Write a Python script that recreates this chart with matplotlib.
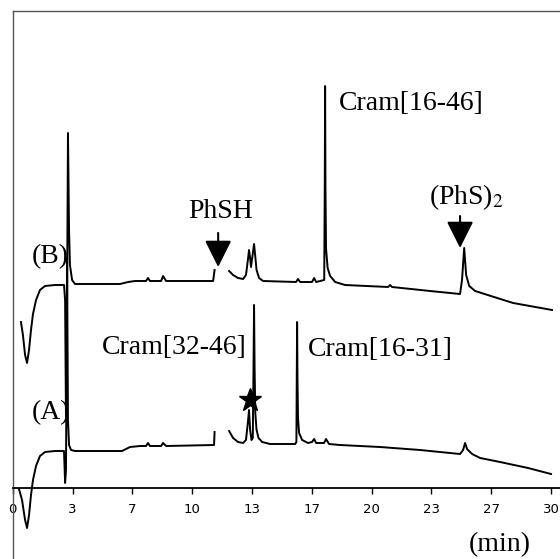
import numpy as np
import matplotlib
matplotlib.use("Agg")
import matplotlib.pyplot as plt

# ---------------- data (time in min, detector signal in arbitrary units) -------------
t_A = [0.35, 0.52, 0.69, 0.80, 0.91, 1.02, 1.13, 1.30, 1.52, 1.80, 2.36, 2.86,
       2.92, 2.97, 3.03, 3.08, 3.14, 3.25, 3.47, 6.09, 6.54, 7.10, 7.43, 7.54,
       7.65, 8.27, 8.38, 8.55, 11.22, 11.25, np.nan,
       12.06, 12.28, 12.56, 12.84, 13.00, 13.12, 13.17, 13.23, 13.31, 13.38,
       13.42, 13.45, 13.48, 13.52, 13.59, 13.70, 13.90, 14.34, 15.74, 15.81,
       15.83, 15.85, 15.87, 15.90, 15.96, 16.13, 16.46, 16.68, 16.80, 16.91,
       17.35, 17.46, 17.63, 18.24, 20.47, 22.70, 24.93, 25.10, 25.21, 25.32,
       25.60, 26.05, 27.16, 28.72, 30.0]
y_A = [-1, -12, -32, -40, -27, -7, 8, 22, 32, 36, 37, 37,
       5, 18, 230, 68, 43, 38, 37, 37, 41, 42, 42, 45,
       42, 42, 45, 42, 43, 56, np.nan,
       57, 50, 46, 45, 48, 68, 78, 58, 48, 50,
       120, 183, 120, 75, 58, 50, 46, 44, 44, 46,
       110, 166, 110, 70, 55, 48, 45, 46, 49, 45,
       45, 49, 44, 43, 41, 38, 34, 38, 45, 39,
       34, 30, 26, 20, 14]

t_B = [0.46, 0.57, 0.69, 0.80, 0.91, 1.02, 1.13, 1.30, 1.52, 1.80, 2.36, 2.86,
       2.92, 2.97, 3.03, 3.08, 3.14, 3.19, 3.31, 3.47, 5.98, 6.43, 6.82, 7.43,
       7.54, 7.65, 8.27, 8.38, 8.55, 11.17, 11.25, np.nan,
       12.06, 12.28, 12.56, 12.84, 13.00, 13.12, 13.17, 13.23, 13.28, 13.37,
       13.45, 13.51, 13.59, 13.73, 13.95, 15.79, 15.90, 16.02, 16.68, 16.80,
       16.91, 17.36, 17.39, 17.41, 17.43, 17.46, 17.55, 17.69, 17.97, 18.52,
       20.92, 21.03, 21.14, 23.26, 24.93, 25.04, 25.16, 25.27, 25.44, 25.77,
       27.00, 27.89, 30.06]
y_B = [166, 153, 133, 125, 138, 158, 174, 188, 198, 202, 203, 203,
       188, 68, 188, 355, 258, 223, 208, 204, 204, 206, 207, 207,
       210, 207, 207, 212, 207, 207, 218, np.nan,
       217, 213, 210, 209, 213, 230, 238, 230, 221, 233,
       244, 233, 218, 210, 207, 206, 209, 206, 206, 210,
       206, 208, 300, 402, 300, 240, 220, 212, 206, 203,
       201, 203, 201, 197, 194, 208, 240, 213, 202, 197,
       190, 185, 178]

tick_pos = list(np.linspace(0, 30, 10))
tick_labels = ["0", "3", "7", "10", "13", "17", "20", "23", "27", "30"]

# ---------------- figure ----------------
plt.rcParams['mathtext.fontset'] = 'stix'
serif = ['Liberation Serif', 'DejaVu Serif']

fig = plt.figure(figsize=(5.6, 5.59), dpi=100)
ax = fig.add_axes([12.7 / 560, 0.0, 1 - 12.7 / 560, (559 - 11) / 559])

ax.plot(t_A, y_A, color='black', lw=1.4, solid_joinstyle='round')
ax.plot(t_B, y_B, color='black', lw=1.4, solid_joinstyle='round')

ax.set_xlim(0, 30.5)
ax.set_ylim(-71, 477)

ax.spines['right'].set_visible(False)
ax.spines['top'].set_color('#555555')
ax.spines['left'].set_color('#555555')
ax.spines['top'].set_linewidth(1.0)
ax.spines['left'].set_linewidth(1.0)
ax.spines['bottom'].set_position(('data', 0))
ax.spines['bottom'].set_color('black')
ax.spines['bottom'].set_linewidth(1.3)

ax.set_xticks(tick_pos)
ax.set_xticklabels(tick_labels, fontsize=9.5, family='DejaVu Sans')
ax.tick_params(axis='x', direction='out', length=4.5, width=1.0, pad=6)
ax.set_yticks([])

fs = 20
ax.text(18.2, 385, "Cram[16-46]", family=serif, fontsize=fs, ha='left', va='center')
ax.text(11.56, 276, "PhSH", family=serif, fontsize=fs, ha='center', va='center')
ax.text(23.2, 291, "(PhS)$_2$", family=serif, fontsize=fs, ha='left', va='center')
ax.text(9.02, 140, "Cram[32-46]", family=serif, fontsize=fs, ha='center', va='center')
ax.text(16.46, 139, "Cram[16-31]", family=serif, fontsize=fs, ha='left', va='center')
ax.text(1.08, 231, "(B)", family=serif, fontsize=fs, ha='left', va='center')
ax.text(1.08, 75, "(A)", family=serif, fontsize=fs, ha='left', va='center')
ax.text(27.16, -57, "(min)", family=serif, fontsize=fs, ha='center', va='center')

arrow = dict(arrowstyle='-|>,head_length=1.1,head_width=0.55', lw=1.5,
             color='black', shrinkA=0, shrinkB=0, mutation_scale=15)
ax.annotate('', xy=(11.45, 221), xytext=(11.45, 255), arrowprops=arrow)
ax.annotate('', xy=(24.93, 240), xytext=(24.93, 272), arrowprops=arrow)

ax.plot([13.23], [88], marker='*', color='black', markersize=17, ls='none')

fig.savefig('out.png', dpi=100)
